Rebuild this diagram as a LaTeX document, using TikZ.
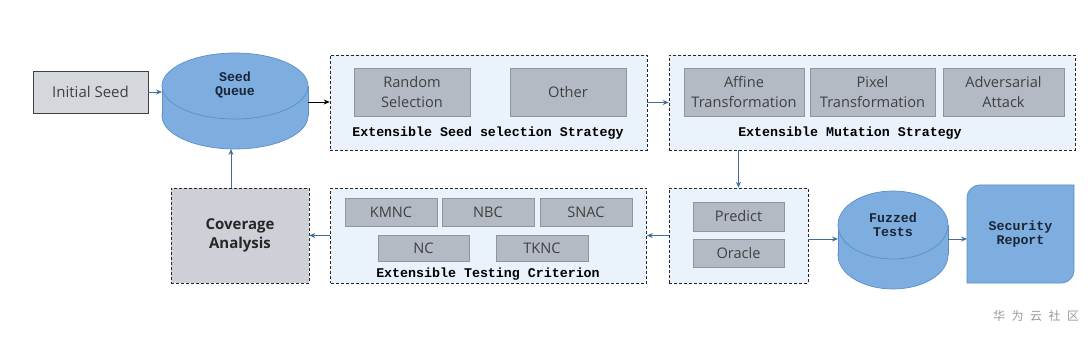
\documentclass[tikz,border=0pt]{standalone}
\usepackage{fontspec}
\setmainfont{Open Sans}
\newfontfamily\monob{Liberation Mono}
\newfontfamily\cjk{Noto Sans CJK SC}
\usetikzlibrary{arrows.meta}
\definecolor{cfill}{HTML}{EAF2FB}
\definecolor{itemfill}{HTML}{B4BAC3}
\definecolor{itemdraw}{HTML}{8E959F}
\definecolor{isfill}{HTML}{D4D7DC}
\definecolor{covfill}{HTML}{CDD1D7}
\definecolor{textc}{HTML}{404040}
\definecolor{cylfill}{HTML}{7EAEE0}
\definecolor{cyldraw}{HTML}{5A8FCB}
\definecolor{arrowc}{HTML}{3E6E99}
\definecolor{navy}{HTML}{1A2535}
\begin{document}
\begin{tikzpicture}[x=1pt,y=-1pt,
  container/.style={draw=black!85, densely dashed, fill=cfill, line width=0.6pt, inner sep=0pt},
  item/.style={draw=itemdraw, fill=itemfill, text=textc, font=\fontsize{14.6}{19.5}\selectfont, line width=0.6pt, inner sep=0pt, align=center},
  lab/.style={font=\monob\bfseries\fontsize{13.3}{15}\selectfont, text=black},
  cyltext/.style={font=\monob\bfseries\fontsize{13.3}{15}\selectfont, text=navy, align=center},
  conn/.style={draw=arrowc, line width=0.8pt, -{Stealth[length=6pt,width=5pt]}},
  cylstyle/.style={fill=cylfill, draw=cyldraw, line width=0.7pt}]
\useasboundingbox (0,0) rectangle (1090,339);
% Initial seed
\node[draw=black!75, fill=isfill, text=textc, font=\fontsize{15}{18}\selectfont, minimum width=115, minimum height=42, inner sep=0pt, line width=0.7pt] (is) at (90.5,92) {Initial Seed};
% Seed queue cylinder
\fill[cylstyle] (235,116) ellipse [x radius=73, y radius=33];
\fill[cylfill] (162,86) rectangle (308,116);
\draw[cyldraw, line width=0.7pt] (162,86) -- (162,116) (308,86) -- (308,116);
\filldraw[cylstyle] (235,86) ellipse [x radius=73, y radius=33];
\node[cyltext] (sq) at (235,85) {Seed\\[-1pt]Queue};
\coordinate (sq-w) at (162,92);
\coordinate (sq-e) at (308,102);
\coordinate (sq-s) at (231,149);
% Selection strategy
\node[container, minimum width=317, minimum height=95] (sel) at (488.5,102.5) {};
\node[item, minimum width=116, minimum height=48] (rs) at (412,92) {Random\\Selection};
\node[item, minimum width=116, minimum height=48] (ot) at (568,92) {Other};
\node[lab] (sellab) at (488,133) {Extensible Seed selection Strategy};
% Mutation strategy
\node[container, minimum width=406, minimum height=95] (mut) at (872,102.5) {};
\node[item, minimum width=120, minimum height=48] (af) at (744,92) {Affine\\Transformation};
\node[item, minimum width=125, minimum height=48] (px) at (872.5,92) {Pixel\\Transformation};
\node[item, minimum width=121, minimum height=48] (ad) at (1003.5,92) {Adversarial\\Attack};
\node[lab] (mutlab) at (850,133) {Extensible Mutation Strategy};
% Oracle box
\node[container, minimum width=139, minimum height=95] (orc) at (738.5,235.5) {};
\node[item, minimum width=91, minimum height=29] (pr) at (738.5,216.5) {Predict};
\node[item, minimum width=91, minimum height=28] (or) at (738.5,253) {Oracle};
% Testing criterion
\node[container, minimum width=316, minimum height=95] (tst) at (488.5,235.5) {};
\node[item, minimum width=92, minimum height=28] (km) at (391,212) {KMNC};
\node[item, minimum width=92, minimum height=28] (nb) at (488,212) {NBC};
\node[item, minimum width=92, minimum height=28] (sn) at (586,212) {SNAC};
\node[item, minimum width=91, minimum height=26] (nc) at (423.5,248) {NC};
\node[item, minimum width=92, minimum height=26] (tk) at (542,248) {TKNC};
\node[lab] (tstlab) at (488,274) {Extensible Testing Criterion};
% Coverage analysis
\node[draw=black!85, densely dashed, fill=covfill, line width=0.6pt, minimum width=138, minimum height=95, inner sep=0pt, text=black!85, align=center, font=\bfseries\fontsize{15}{19}\selectfont] (cov) at (240,235.5) {Coverage\\Analysis};
% Fuzzed tests cylinder
\fill[cylstyle] (893,255) ellipse [x radius=55, y radius=34];
\fill[cylfill] (838,225) rectangle (948,255);
\draw[cyldraw, line width=0.7pt] (838,225) -- (838,255) (948,225) -- (948,255);
\filldraw[cylstyle] (893,225) ellipse [x radius=55, y radius=34];
\node[cyltext] (ft) at (893,225) {Fuzzed\\[-1pt]Tests};
\coordinate (ft-w) at (838,239);
\coordinate (ft-e) at (948,239);
% Security report
\filldraw[cylstyle] (967,283) -- (967,197) .. controls (967,190.4) and (973.6,185) .. (979,185) -- (1074,185) -- (1074,271) .. controls (1074,277.6) and (1067.4,283) .. (1062,283) -- cycle;
\node[cyltext] (sr) at (1020.5,234) {Security\\[-1pt]Report};
\coordinate (sr-w) at (967,239);
% Connectors
\draw[conn] (is.east) -- (sq-w);
\draw[line width=0.8pt, draw=black, -{Stealth[length=6pt,width=5pt]}] (sq-e) -- (sel.west |- sq-e);
\draw[conn] (sel.east) -- (mut.west);
\draw[conn] (orc.north |- mut.south) -- (orc.north);
\draw[conn] (orc.east |- ft-w) -- (ft-w);
\draw[conn] (ft-e) -- (sr-w);
\draw[conn] (orc.west) -- (tst.east);
\draw[conn] (tst.west) -- (cov.east);
\draw[conn] (cov.north -| sq-s) -- (sq-s);
% watermark
\node[font=\cjk\fontsize{12}{14}\selectfont, text=black!40] (wm) at (1036,316) {华\hspace{6.5pt}为\hspace{6.5pt}云\hspace{6.5pt}社\hspace{6.5pt}区};
\end{tikzpicture}
\end{document}
